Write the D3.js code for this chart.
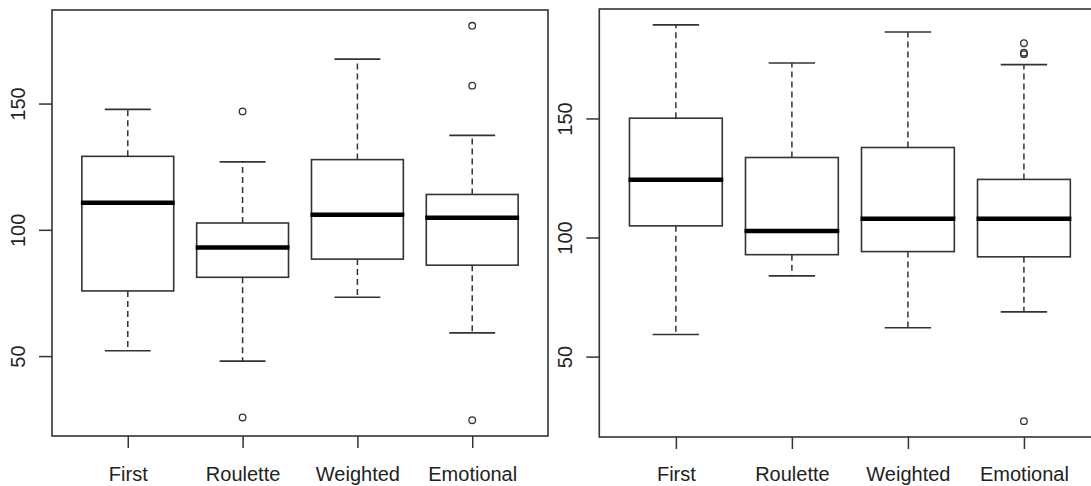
<!DOCTYPE html>
<html>
<head>
<meta charset="utf-8">
<script src="https://cdn.jsdelivr.net/npm/d3@7"></script>
<style>
    body { margin: 0; background: #fff; }
    svg { display: block; }
    text { font-family: "Liberation Sans", Arial, sans-serif; fill: #222; }
</style>
</head>
<body>
<svg id="vis_svg"></svg>
<script>
// Data
const groups = ['First', 'Roulette', 'Weighted', 'Emotional'];
const yTicks = [50, 100, 150];

// Left plot stats
const leftLower = [52.1, 48.0, 73.3, 59.2];
const leftQ1 = [75.8, 81.2, 88.4, 86.0];
const leftMedian = [110.7, 93.0, 106.0, 104.8];
const leftQ3 = [129.1, 102.7, 127.8, 114.0];
const leftUpper = [147.7, 126.9, 167.6, 137.4];
const leftOutliers = [[], [146.9, 25.7], [], [180.8, 157.1, 24.6]];

// Right plot stats
const rightLower = [59.3, 83.9, 62.1, 68.8];
const rightQ1 = [104.9, 92.8, 94.1, 91.9];
const rightMedian = [124.3, 102.7, 107.9, 107.9];
const rightQ3 = [150.1, 133.6, 137.8, 124.4];
const rightUpper = [189.3, 173.3, 186.3, 172.6];
const rightOutliers = [[], [], [], [181.6, 177.6, 177.0, 22.9]];

let config = {
    'svg': { 'width': 1091, 'height': 486 },
    'plots': [
        { 'left': 52, 'right': 548, 'top': 10, 'bottom': 436 },
        { 'left': 599.3, 'right': 1100.5, 'top': 9, 'bottom': 437 }
    ],
    'line': '#333',
    'boxwex': 0.8,
    'capwex': 0.4
};

function buildStats(lower, q1, median, q3, upper, outliers) {
    return groups.map((g, i) => ({
        name: g, pos: i + 1,
        lower: lower[i], q1: q1[i], median: median[i], q3: q3[i], upper: upper[i],
        out: outliers[i]
    }));
}

function drawPlot(svg, box, stats) {
    // R style: pad data range by 4%
    let all = [];
    stats.forEach(s => { all.push(s.lower, s.upper); all = all.concat(s.out); });
    let lo = d3.min(all), hi = d3.max(all), pad = (hi - lo) * 0.04;

    let y = d3.scaleLinear().domain([lo - pad, hi + pad]).range([box.bottom, box.top]);
    let x = d3.scaleLinear().domain([0.5 - 0.16, groups.length + 0.5 + 0.16]).range([box.left, box.right]);

    let g = svg.append('g');

    // whiskers
    let items = g.selectAll('g.item').data(stats).join('g').attr('class', 'item');

    items.append('line')
        .attr('x1', d => x(d.pos)).attr('x2', d => x(d.pos))
        .attr('y1', d => y(d.q3)).attr('y2', d => y(d.upper))
        .attr('stroke', config.line).attr('stroke-width', 1.5).attr('stroke-dasharray', '6,4');
    items.append('line')
        .attr('x1', d => x(d.pos)).attr('x2', d => x(d.pos))
        .attr('y1', d => y(d.q1)).attr('y2', d => y(d.lower))
        .attr('stroke', config.line).attr('stroke-width', 1.5).attr('stroke-dasharray', '6,4');

    // caps
    ['upper', 'lower'].forEach(k => {
        items.append('line')
            .attr('x1', d => x(d.pos - config.capwex / 2)).attr('x2', d => x(d.pos + config.capwex / 2))
            .attr('y1', d => y(d[k])).attr('y2', d => y(d[k]))
            .attr('stroke', config.line).attr('stroke-width', 1.6);
    });

    // boxes
    items.append('rect')
        .attr('x', d => x(d.pos - config.boxwex / 2))
        .attr('width', d => x(d.pos + config.boxwex / 2) - x(d.pos - config.boxwex / 2))
        .attr('y', d => y(d.q3))
        .attr('height', d => y(d.q1) - y(d.q3))
        .attr('fill', 'white').attr('stroke', config.line).attr('stroke-width', 1.6);

    // medians
    items.append('line')
        .attr('x1', d => x(d.pos - config.boxwex / 2) - 1).attr('x2', d => x(d.pos + config.boxwex / 2) + 1)
        .attr('y1', d => y(d.median)).attr('y2', d => y(d.median))
        .attr('stroke', '#000').attr('stroke-width', 4.5);

    // outliers
    items.selectAll('circle').data(d => d.out.map(v => ({ pos: d.pos, v: v }))).join('circle')
        .attr('cx', d => x(d.pos)).attr('cy', d => y(d.v)).attr('r', 3.3)
        .attr('fill', 'none').attr('stroke', config.line).attr('stroke-width', 1.3);

    // frame
    g.append('rect')
        .attr('x', box.left).attr('y', box.top)
        .attr('width', box.right - box.left).attr('height', box.bottom - box.top)
        .attr('fill', 'none').attr('stroke', config.line).attr('stroke-width', 1.6);

    // y axis
    let yAxis = g.append('g')
        .attr('transform', translate(box.left, 0))
        .call(d3.axisLeft(y).tickValues(yTicks).tickSize(13).tickSizeOuter(0));
    yAxis.select('.domain').remove();
    yAxis.selectAll('line').attr('stroke', config.line).attr('stroke-width', 1.5);
    yAxis.selectAll('text')
        .attr('transform', 'rotate(-90)')
        .attr('x', 0).attr('y', -27).attr('dy', 0)
        .attr('text-anchor', 'middle')
        .style('font-size', '20px');

    // x axis
    let xAxis = g.append('g')
        .attr('transform', translate(0, box.bottom))
        .call(d3.axisBottom(x).tickValues(d3.range(1, groups.length + 1))
            .tickFormat(d => groups[d - 1]).tickSize(12).tickSizeOuter(0));
    xAxis.select('.domain').remove();
    xAxis.selectAll('line').attr('stroke', config.line).attr('stroke-width', 1.5);
    xAxis.selectAll('text')
        .attr('y', 481 - box.bottom).attr('dy', 0)
        .style('font-size', '20px');
}

function visSetup() {
    let svg = d3.select('#vis_svg')
        .attr('width', config.svg.width)
        .attr('height', config.svg.height);

    drawPlot(svg, config.plots[0],
        buildStats(leftLower, leftQ1, leftMedian, leftQ3, leftUpper, leftOutliers));
    drawPlot(svg, config.plots[1],
        buildStats(rightLower, rightQ1, rightMedian, rightQ3, rightUpper, rightOutliers));
}

function translate(x, y) {
    return 'translate(' + x + ',' + y + ')';
}

visSetup();
</script>
</body>
</html>
